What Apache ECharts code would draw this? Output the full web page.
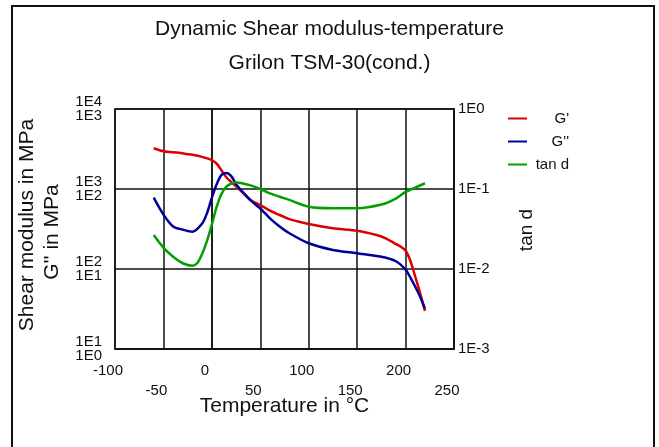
<!DOCTYPE html>
<html><head><meta charset="utf-8">
<script src="https://cdn.jsdelivr.net/npm/echarts@6/dist/echarts.min.js"></script>
<style>html,body{margin:0;padding:0;background:#fff}#c{width:659px;height:447px}</style>
</head><body><div id="c"></div>
<script>
const titleLines = ['Dynamic Shear modulus-temperature', 'Grilon TSM-30(cond.)'];
const seriesNames = ["G'", "G''", 'tan d'];
const xAxisName = 'Temperature in °C';
const leftNames = ['Shear modulus in MPa', "G'' in MPa"];
const rightName = 'tan d';
const xTicks = [-100, -50, 0, 50, 100, 150, 200, 250];
const leftTopLabels = ['1E1', '1E2', '1E3', '1E4'];
const leftBottomLabels = ['1E0', '1E1', '1E2', '1E3'];
const rightLabels = ['1E-3', '1E-2', '1E-1', '1E0'];

const tempsG1 = [-60, -50, -40, -30, -20, -10, 0, 5, 10, 15, 20, 25, 30, 40, 50, 60, 70, 80, 100, 125, 150, 170, 180, 190, 195, 200, 205, 210, 215, 220];
const gPrime  = [3230, 2960, 2880, 2790, 2680, 2520, 2300, 2080, 1700, 1400, 1220, 1080, 950, 730, 630, 536, 473, 420, 365, 323, 301, 266, 240, 205, 190, 170, 126, 80, 50, 30];

const tempsG2 = [-60, -50, -40, -30, -20, -10, -5, 0, 5, 10, 15, 20, 25, 30, 40, 50, 60, 70, 80, 100, 125, 150, 175, 190, 200, 205, 210, 215, 220];
const gDouble = [78, 48, 34, 31, 29.3, 37, 50, 78, 115, 150, 158, 145, 115, 97, 72, 57, 43, 34, 28, 21, 17.3, 15.7, 14.2, 12.5, 9.8, 7.8, 6.0, 4.5, 3.2];

const tempsTan = [-60, -50, -40, -30, -20, -15, -10, -5, 0, 5, 10, 15, 20, 25, 30, 40, 50, 60, 70, 80, 100, 125, 150, 175, 190, 200, 210, 220];
const tanD     = [0.0266, 0.0185, 0.0142, 0.0118, 0.0110, 0.0119, 0.0155, 0.0225, 0.036, 0.060, 0.087, 0.107, 0.117, 0.121, 0.119, 0.111, 0.100, 0.088, 0.080, 0.073, 0.060, 0.0575, 0.0575, 0.064, 0.076, 0.092, 0.104, 0.118];

const colors = ['#dd0000', '#000099', '#00a000'];
const FONT = 'Liberation Sans, Arial, sans-serif';

const pairs = (xs, ys) => xs.map((x, i) => [x, ys[i]]);

const chart = echarts.init(document.getElementById('c'), null, {renderer: 'canvas'});
chart.setOption({
  animation: false,
  backgroundColor: '#fff',
  title: [
    {text: titleLines[0], left: 'center', top: 14, textStyle: {fontFamily: FONT, fontSize: 21, fontWeight: 'normal', color: '#111'}},
    {text: titleLines[1], left: 'center', top: 48, textStyle: {fontFamily: FONT, fontSize: 21, fontWeight: 'normal', color: '#111'}}
  ],
  legend: {
    orient: 'vertical', left: 503, top: 106, itemWidth: 19, itemHeight: 2, itemGap: 8,
    icon: 'rect', formatter: '{a|{name}}',
    textStyle: {rich: {a: {width: 37, align: 'right', fontSize: 15, lineHeight: 17, fontFamily: FONT, color: '#111'}}},
    data: seriesNames
  },
  grid: {left: 115, right: 205, top: 109, bottom: 98, show: true, borderColor: '#111', borderWidth: 1.5, containLabel: false},
  xAxis: {
    type: 'value', min: -100, max: 250, interval: 50,
    name: xAxisName, nameLocation: 'middle', nameGap: 47, nameMoveOverlap: false,
    nameTextStyle: {fontFamily: FONT, fontSize: 21, color: '#111', verticalAlign: 'top'},
    axisLine: {lineStyle: {color: '#111', width: 1.5}},
    axisTick: {show: false},
    splitLine: {show: true, lineStyle: {color: '#111', width: 1.5}},
    axisLabel: {
      fontFamily: FONT, fontSize: 15, color: '#111', margin: 12, lineHeight: 20, padding: [0, 14, 0, 0],
      formatter: v => { const i = xTicks.indexOf(v); return i % 2 === 0 ? String(v) : '\n' + v; }
    }
  },
  yAxis: [
    {
      type: 'log', logBase: 10, min: 10, max: 10000, position: 'left',
      axisLine: {show: true, lineStyle: {color: '#111', width: 1.5}},
      axisTick: {show: false},
      splitLine: {show: true, lineStyle: {color: '#111', width: 1.5}},
      minorTick: {show: false}, minorSplitLine: {show: false},
      axisLabel: {
        fontFamily: FONT, fontSize: 15, color: '#111', margin: 13, lineHeight: 14,
        formatter: v => { const i = Math.round(Math.log10(v)) - 1; return leftTopLabels[i] + '\n' + leftBottomLabels[i]; }
      }
    },
    {
      type: 'log', logBase: 10, min: 1, max: 1000, position: 'left', show: false
    },
    {
      type: 'log', logBase: 10, min: 0.001, max: 1, position: 'right',
      axisLine: {show: true, lineStyle: {color: '#111', width: 1.5}},
      axisTick: {show: false},
      splitLine: {show: false},
      axisLabel: {
        fontFamily: FONT, fontSize: 15, color: '#111', margin: 4,
        formatter: v => rightLabels[Math.round(Math.log10(v)) + 3]
      }
    }
  ],
  graphic: [
    {type: 'rect', shape: {x: 12, y: 6, width: 642, height: 470}, style: {fill: 'none', stroke: '#111', lineWidth: 2}, silent: true},
    {type: 'text', x: 27, y: 225, rotation: Math.PI / 2, style: {text: leftNames[0], align: 'center', verticalAlign: 'middle', font: '21px ' + FONT, fill: '#111'}},
    {type: 'text', x: 52, y: 232, rotation: Math.PI / 2, style: {text: leftNames[1], align: 'center', verticalAlign: 'middle', font: '21px ' + FONT, fill: '#111'}},
    {type: 'text', x: 527, y: 230, rotation: Math.PI / 2, style: {text: rightName, align: 'center', verticalAlign: 'middle', font: '19px ' + FONT, fill: '#111'}}
  ],
  series: [
    {name: seriesNames[0], type: 'line', yAxisIndex: 0, data: pairs(tempsG1, gPrime), showSymbol: false, smooth: 0.3, lineStyle: {color: colors[0], width: 2.5}, itemStyle: {color: colors[0]}},
    {name: seriesNames[1], type: 'line', yAxisIndex: 1, data: pairs(tempsG2, gDouble), showSymbol: false, smooth: 0.3, lineStyle: {color: colors[1], width: 2.5}, itemStyle: {color: colors[1]}},
    {name: seriesNames[2], type: 'line', yAxisIndex: 2, data: pairs(tempsTan, tanD), showSymbol: false, smooth: 0.3, lineStyle: {color: colors[2], width: 2.5}, itemStyle: {color: colors[2]}}
  ]
});
</script>
</body></html>
